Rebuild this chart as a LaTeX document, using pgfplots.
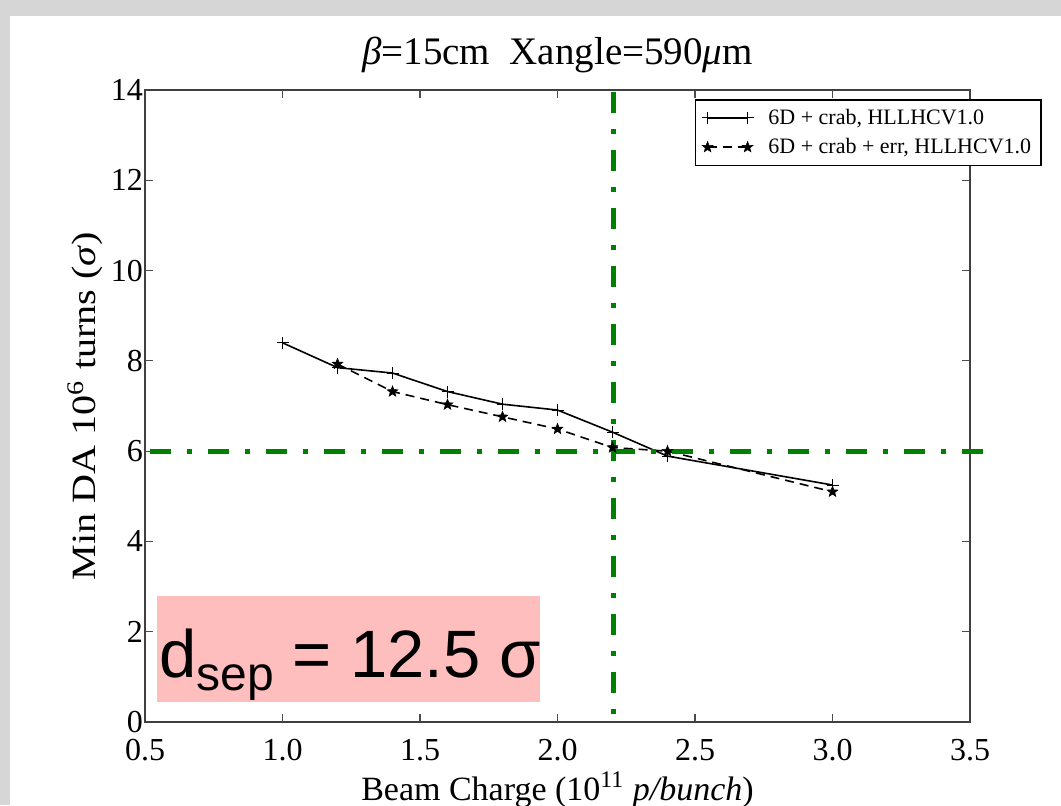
\documentclass[border=0pt]{standalone}
\usepackage{fontspec}
\setmainfont{Liberation Serif}
\newfontfamily\arial{Liberation Sans}
\newfontfamily\ylabfont[FakeStretch=1.18]{Liberation Serif}
\usepackage{pgfplots}
\pgfplotsset{compat=1.18}

\definecolor{dagreen}{RGB}{0,128,0}
\definecolor{notepink}{RGB}{255,190,190}
\definecolor{slidegray}{RGB}{214,214,214}

% filled five-point star, like matplotlib's '*'
\pgfdeclareplotmark{fstar}{%
  \pgfpathmoveto{\pgfpointpolar{90}{\pgfplotmarksize}}%
  \pgfpathlineto{\pgfpointpolar{126}{0.42\pgfplotmarksize}}%
  \pgfpathlineto{\pgfpointpolar{162}{\pgfplotmarksize}}%
  \pgfpathlineto{\pgfpointpolar{198}{0.42\pgfplotmarksize}}%
  \pgfpathlineto{\pgfpointpolar{234}{\pgfplotmarksize}}%
  \pgfpathlineto{\pgfpointpolar{270}{0.42\pgfplotmarksize}}%
  \pgfpathlineto{\pgfpointpolar{306}{\pgfplotmarksize}}%
  \pgfpathlineto{\pgfpointpolar{342}{0.42\pgfplotmarksize}}%
  \pgfpathlineto{\pgfpointpolar{18}{\pgfplotmarksize}}%
  \pgfpathlineto{\pgfpointpolar{54}{0.42\pgfplotmarksize}}%
  \pgfpathclose
  \pgfusepathqfillstroke
}

\begin{document}
\begin{tikzpicture}
\useasboundingbox (0pt,0pt) rectangle (530.5pt,402.5pt);
\fill[slidegray] (0pt,0pt) rectangle (530.5pt,402.5pt);
\fill[white] (5pt,0pt) rectangle (530.5pt,394.5pt);

\begin{axis}[
    at={(72.5pt,41.5pt)}, anchor=south west,
    width=412.5pt, height=316pt, scale only axis,
    xmin=0.5, xmax=3.5, ymin=0, ymax=14,
    xtick={0.5,1.0,1.5,2.0,2.5,3.0,3.5},
    ytick={0,2,4,6,8,10,12,14},
    clip=false,
    axis line style={black!75, line width=1.1pt},
    tick align=inside,
    major tick length=4pt,
    every tick/.style={black!70, line width=0.6pt},
    /pgf/number format/assume math mode=true,
    tick label style={font=\fontsize{16}{19}\selectfont},
    xticklabel style={anchor=base, yshift=-19pt,
        /pgf/number format/.cd, fixed, fixed zerofill, precision=1},
    yticklabel style={xshift=2.5pt},
    title={\textit{β}=15cm\ \ Xangle=590\textit{μ}m},
    title style={font=\fontsize{19.5}{23}\selectfont,
        at={(axis description cs:0.5,1)}, anchor=base, yshift=6.5pt},
    xlabel={Beam Charge (10\textsuperscript{11} \textit{p/bunch})},
    xlabel style={font=\fontsize{17}{20}\selectfont,
        at={(axis description cs:0.5,0)}, anchor=base, yshift=-39pt},
    ylabel={Min DA 10\textsuperscript{6} turns (\textit{σ})},
    ylabel style={font=\ylabfont\fontsize{17}{20}\selectfont,
        at={(axis description cs:-0.0727,0.5)}, anchor=center},
    legend style={font=\fontsize{11}{13}\selectfont,
        at={(axis description cs:1,1)}, anchor=north east,
        xshift=36pt, yshift=-4.5pt,
        draw=black, line width=0.8pt, fill=white,
        inner xsep=3pt, inner ysep=2.5pt, row sep=1.5pt},
    legend cell align=left,
    legend image code/.code={
        \draw[mark repeat=2, mark phase=1, #1]
            plot coordinates {(0pt,0pt) (10pt,0pt) (20pt,0pt)};
        \path (28pt,0pt);},
]
\addplot[black, line width=0.8pt, mark=+, mark size=3pt,
    mark options={line width=0.5pt}] coordinates {
    (1.0,8.40) (1.2,7.85) (1.4,7.73) (1.6,7.32) (1.8,7.04)
    (2.0,6.91) (2.2,6.42) (2.4,5.89) (3.0,5.25)
};
\addlegendentry{6D + crab, HLLHCV1.0}

\addplot[black, line width=0.8pt, dash pattern=on 4.5pt off 3pt,
    mark=fstar, mark size=2.8pt, mark options={solid, fill=black, line width=0.3pt}]
    coordinates {
    (1.2,7.93) (1.4,7.32) (1.6,7.03) (1.8,6.76) (2.0,6.49)
    (2.2,6.08) (2.4,6.00) (3.0,5.10)
};
\addlegendentry{6D + crab + err, HLLHCV1.0}

% limits drawn over the slide
\addplot[dagreen, line width=2.5pt, dash pattern=on 10.5pt off 8pt on 2.5pt off 8pt,
    forget plot] coordinates {(0.518,6) (3.555,6)};
\addplot[dagreen, line width=2.5pt, dash pattern=on 10.5pt off 8pt on 2.5pt off 8pt,
    forget plot] coordinates {(2.205,13.95) (2.205,0.05)};
\end{axis}

\fill[notepink] (78.5pt,51.5pt) rectangle (270pt,104.5pt);
\node[anchor=base west, inner sep=0pt] at (79.5pt,64pt)
    {\arial\fontsize{33.5}{34}\selectfont d\raisebox{-6.5pt}{\fontsize{24}{24}\selectfont sep} = 12.5 σ};
\end{tikzpicture}
\end{document}
